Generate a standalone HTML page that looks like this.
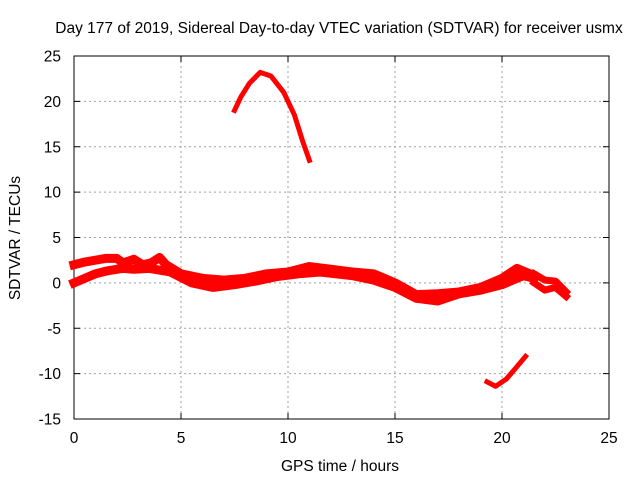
<!DOCTYPE html>
<html><head><meta charset="utf-8"><style>
body{margin:0;background:#fff}
svg{display:block;font-family:"Liberation Sans",sans-serif}
</style></head><body>
<svg id="c" width="640" height="480"></svg>
<script>
const xTicks=[0,5,10,15,20,25];
const yTicks=[25,20,15,10,5,0,-5,-10,-15];
const arcHighX=[7.5,7.8,8.2,8.7,9.2,9.8,10.3,10.7,11];
const arcHighY=[19,20.5,22,23.2,22.8,21,18.5,15.5,13.5];
const arcLowX=[19.3,19.7,20.2,20.6,21.1];
const arcLowY=[-10.9,-11.4,-10.6,-9.5,-8.1];
const bandUpperX=[0,0.5,1,1.5,2,2.3,2.8,3.2,3.6,4,4.3,5,6,7,8,9,10,11,12,13,14,15,16,17,18,19,20,20.7,21.3];
const bandUpperY=[2,2.3,2.5,2.7,2.7,2.2,2.6,2.0,2.2,2.8,2.0,1,0.5,0.3,0.5,1,1.2,1.8,1.5,1.2,1,0,-1.3,-1.2,-1,-0.5,0.5,1.6,1.0];
const bandLowerX=[0,0.5,1,1.5,2,2.3,2.8,3.5,4.5,5.5,6.5,7.5,8.5,9.5,10.5,11.5,13,14,15,16,17,18,19,20,21,21.5];
const bandLowerY=[0,0.5,1,1.3,1.5,1.6,1.5,1.6,1.2,0,-0.5,-0.2,0.2,0.7,1,1.2,0.8,0.3,-0.5,-1.7,-2,-1.2,-0.8,-0.2,0.8,0.5];
const tailX=[21.5,22,22.5,23];
const tailY=[1,0.3,0.2,-1];
const tail2X=[21.5,22,22.5,23];
const tail2Y=[0,-0.8,-0.5,-1.5];
const NS="http://www.w3.org/2000/svg";
const svg=document.getElementById('c');
const L=74,R=609,T=56,B=419;
const FS=15.5;
const xs=v=>L+(v-0)/25*(R-L);
const ys=v=>B-(v+15)/40*(B-T);
function el(t,a,p){const e=document.createElementNS(NS,t);for(const k in a)e.setAttribute(k,a[k]);(p||svg).appendChild(e);return e;}
function txt(x,y,s,anchor,extra){const e=el('text',Object.assign({x:x,y:y,'font-size':FS,fill:'#000','text-anchor':anchor},extra||{}));e.textContent=s;return e;}
xTicks.forEach(v=>{if(v>0&&v<25){const g=el('line',{x1:xs(v),x2:xs(v),y1:T,y2:B,stroke:'#a0a0a0','stroke-dasharray':'2,3'});

}
const t=txt(xs(v),443,String(v),'middle');


el('line',{x1:xs(v),x2:xs(v),y1:B,y2:B-6,stroke:'#000'});el('line',{x1:xs(v),x2:xs(v),y1:T,y2:T+6,stroke:'#000'});});
yTicks.forEach(v=>{if(v<25&&v>-15){const g=el('line',{x1:L,x2:R,y1:ys(v),y2:ys(v),stroke:'#a0a0a0','stroke-dasharray':'2,3'});

}
const t=txt(61,ys(v)+5.5,String(v),'end');


el('line',{x1:L,x2:L+6,y1:ys(v),y2:ys(v),stroke:'#000'});el('line',{x1:R,x2:R-6,y1:ys(v),y2:ys(v),stroke:'#000'});});
const fr=el('rect',{x:L,y:T,width:R-L,height:B-T,fill:'none',stroke:'#000'});


function series(X,Y,w,name){const pts=X.map((x,i)=>xs(x)+','+ys(Y[i])).join(' ');
const p=el('polyline',{points:pts,fill:'none',stroke:'#ff0000','stroke-width':w,'stroke-linejoin':'round','stroke-linecap':'square'});

}
series(arcHighX,arcHighY,5,'series-high-arc');
series(arcLowX,arcLowY,5,'series-low-arc');
series(bandUpperX,bandUpperY,9,'series-band-upper');
series(bandLowerX,bandLowerY,9,'series-band-lower');
series(tailX,tailY,7,'series-tail-upper');
series(tail2X,tail2Y,7,'series-tail-lower');
const ti=txt(339,33,'Day 177 of 2019, Sidereal Day-to-day VTEC variation (SDTVAR) for receiver usmx','middle');


const xl=txt(340,471,'GPS time / hours','middle');


const yl=txt(0,0,'SDTVAR / TECUs','middle',{transform:'translate(20,238) rotate(-90)'});


</script>
</body></html>
